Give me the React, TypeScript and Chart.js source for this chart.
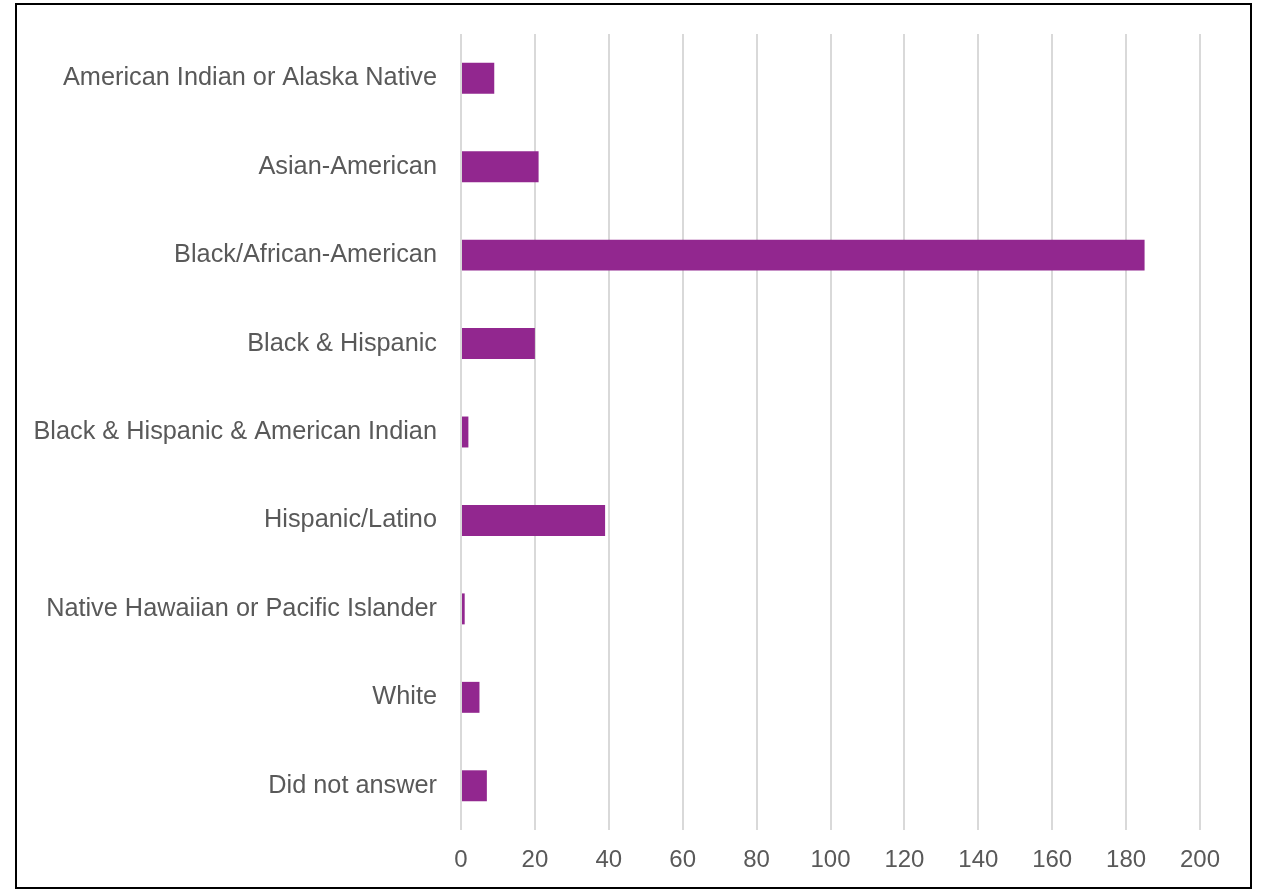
import React, { useEffect, useRef } from "react";
import { Chart, registerables } from "chart.js";

Chart.register(...registerables);

const categories = [
  "American Indian or Alaska Native",
  "Asian-American",
  "Black/African-American",
  "Black & Hispanic",
  "Black & Hispanic & American Indian",
  "Hispanic/Latino",
  "Native Hawaiian or Pacific Islander",
  "White",
  "Did not answer",
];
const counts = [9, 21, 185, 20, 2, 39, 1, 5, 7];
const xMin = 0;
const xMax = 200;
const xStep = 20;

export default function App() {
  const ref = useRef<HTMLCanvasElement>(null);
  useEffect(() => {
    if (!ref.current) return;
    const chart = new Chart(ref.current, {
      type: "bar",
      data: {
        labels: categories,
        datasets: [
          {
            data: counts,
            backgroundColor: "#92278F",
            borderWidth: 0,
            barPercentage: 0.7,
            categoryPercentage: 0.5,
          },
        ],
      },
      options: {
        indexAxis: "y",
        animation: false,
        responsive: false,
        maintainAspectRatio: false,
        layout: { padding: { top: 29, right: 50, bottom: 0, left: 0 } },
        plugins: { legend: { display: false }, tooltip: { enabled: false } },
        scales: {
          x: {
            min: xMin,
            max: xMax,
            ticks: {
              stepSize: xStep,
              color: "#595959",
              font: { family: "Liberation Sans", size: 24 },
              padding: 16,
            },
            grid: { color: "#d9d9d9", lineWidth: 2, drawTicks: false },
            border: { display: false },
            afterFit: (s: any) => {
              s.height = 57;
              s.paddingLeft = 0;
              s.paddingRight = 0;
            },
          },
          y: {
            ticks: {
              color: "#595959",
              font: { family: "Liberation Sans", size: 25.3 },
              padding: 16,
            },
            grid: { display: false },
            border: { display: false },
            afterFit: (s: any) => {
              s.width = 444;
              s.paddingTop = 0;
              s.paddingBottom = 0;
            },
          },
        },
      },
    });
    return () => chart.destroy();
  }, []);
  return (
    <div
      style={{
        position: "absolute",
        left: 15,
        top: 3,
        width: 1237,
        height: 886,
        border: "2px solid #000",
        boxSizing: "border-box",
        background: "#fff",
      }}
    >
      <canvas ref={ref} width={1233} height={882} style={{ display: "block" }} />
    </div>
  );
}
